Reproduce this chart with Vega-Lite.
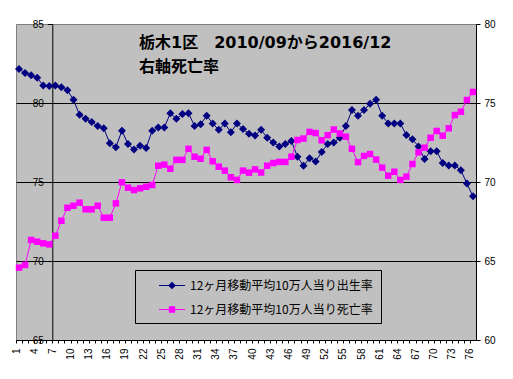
{
  "$schema": "https://vega.github.io/schema/vega-lite/v6.json",
  "width": 460,
  "height": 316,
  "autosize": "none",
  "padding": {"left": 16, "top": 24, "right": 37, "bottom": 39},
  "background": "white",
  "config": {
    "view": {"fill": "#C0C0C0", "stroke": "#808080", "strokeWidth": 1},
    "axis": {"labelFont": "Liberation Sans", "labelColor": "black", "labelFontSize": 10, "domainColor": "black", "tickColor": "black", "title": null}
  },
  "title": {
    "text": ["栃木1区　2010/09から2016/12", "右軸死亡率"],
    "anchor": "start",
    "frame": "group",
    "orient": "top",
    "offset": 0,
    "dx": 123,
    "dy": 56,
    "baseline": "top",
    "lineHeight": 24,
    "font": "DejaVu Sans, Noto Sans CJK JP",
    "fontSize": 16,
    "fontWeight": "bold",
    "color": "black"
  },
  "data": {
    "values": [
      {"i": 1, "birth": 82.15, "death": 64.58},
      {"i": 2, "birth": 81.9, "death": 64.75},
      {"i": 3, "birth": 81.75, "death": 66.33},
      {"i": 4, "birth": 81.6, "death": 66.22},
      {"i": 5, "birth": 81.1, "death": 66.12},
      {"i": 6, "birth": 81.08, "death": 66.05},
      {"i": 7, "birth": 81.1, "death": 66.6},
      {"i": 8, "birth": 81.0, "death": 67.55},
      {"i": 9, "birth": 80.8, "death": 68.37},
      {"i": 10, "birth": 80.2, "death": 68.5},
      {"i": 11, "birth": 79.25, "death": 68.69},
      {"i": 12, "birth": 79.0, "death": 68.27},
      {"i": 13, "birth": 78.8, "death": 68.27},
      {"i": 14, "birth": 78.55, "death": 68.5},
      {"i": 15, "birth": 78.4, "death": 67.74},
      {"i": 16, "birth": 77.45, "death": 67.74},
      {"i": 17, "birth": 77.2, "death": 68.65},
      {"i": 18, "birth": 78.25, "death": 69.98},
      {"i": 19, "birth": 77.4, "death": 69.64},
      {"i": 20, "birth": 77.05, "death": 69.49},
      {"i": 21, "birth": 77.3, "death": 69.6},
      {"i": 22, "birth": 77.15, "death": 69.7},
      {"i": 23, "birth": 78.25, "death": 69.81},
      {"i": 24, "birth": 78.45, "death": 71.03},
      {"i": 25, "birth": 78.45, "death": 71.1},
      {"i": 26, "birth": 79.35, "death": 70.84},
      {"i": 27, "birth": 79.0, "death": 71.4},
      {"i": 28, "birth": 79.3, "death": 71.4},
      {"i": 29, "birth": 79.35, "death": 72.1},
      {"i": 30, "birth": 78.55, "death": 71.6},
      {"i": 31, "birth": 78.65, "death": 71.47},
      {"i": 32, "birth": 79.2, "death": 72.03},
      {"i": 33, "birth": 78.7, "death": 71.31},
      {"i": 34, "birth": 78.3, "death": 70.97},
      {"i": 35, "birth": 78.7, "death": 70.72},
      {"i": 36, "birth": 78.15, "death": 70.3},
      {"i": 37, "birth": 78.7, "death": 70.13},
      {"i": 38, "birth": 78.35, "death": 70.72},
      {"i": 39, "birth": 78.05, "death": 70.59},
      {"i": 40, "birth": 77.95, "death": 70.8},
      {"i": 41, "birth": 78.3, "death": 70.6},
      {"i": 42, "birth": 77.8, "death": 71.03},
      {"i": 43, "birth": 77.5, "death": 71.2},
      {"i": 44, "birth": 77.25, "death": 71.27},
      {"i": 45, "birth": 77.4, "death": 71.27},
      {"i": 46, "birth": 77.6, "death": 71.6},
      {"i": 47, "birth": 76.6, "death": 72.66},
      {"i": 48, "birth": 76.03, "death": 72.75},
      {"i": 49, "birth": 76.5, "death": 73.17},
      {"i": 50, "birth": 76.3, "death": 73.1},
      {"i": 51, "birth": 76.9, "death": 72.64},
      {"i": 52, "birth": 77.4, "death": 72.96},
      {"i": 53, "birth": 77.5, "death": 73.32},
      {"i": 54, "birth": 77.8, "death": 73.07},
      {"i": 55, "birth": 78.55, "death": 72.87},
      {"i": 56, "birth": 79.55, "death": 72.1},
      {"i": 57, "birth": 79.2, "death": 71.26},
      {"i": 58, "birth": 79.55, "death": 71.65},
      {"i": 59, "birth": 79.95, "death": 71.77},
      {"i": 60, "birth": 80.2, "death": 71.42},
      {"i": 61, "birth": 79.2, "death": 70.91},
      {"i": 62, "birth": 78.7, "death": 70.4},
      {"i": 63, "birth": 78.7, "death": 70.65},
      {"i": 64, "birth": 78.7, "death": 70.13},
      {"i": 65, "birth": 77.97, "death": 70.34},
      {"i": 66, "birth": 77.7, "death": 71.14},
      {"i": 67, "birth": 77.25, "death": 71.88},
      {"i": 68, "birth": 76.45, "death": 72.17},
      {"i": 69, "birth": 76.95, "death": 72.8},
      {"i": 70, "birth": 76.95, "death": 73.23},
      {"i": 71, "birth": 76.2, "death": 72.93},
      {"i": 72, "birth": 76.05, "death": 73.4},
      {"i": 73, "birth": 76.05, "death": 74.24},
      {"i": 74, "birth": 75.75, "death": 74.45},
      {"i": 75, "birth": 74.9, "death": 75.19},
      {"i": 76, "birth": 74.1, "death": 75.7}
    ]
  },
  "encoding": {
    "x": {
      "field": "i",
      "type": "ordinal",
      "scale": {"type": "point", "padding": 0.5},
      "axis": {
        "labelAngle": -90,
        "labelExpr": "(datum.value - 1) % 3 === 0 ? datum.label : ''",
        "tickSize": 3,
        "tickOffset": -3,
        "labelPadding": 5,
        "grid": false,
        "labelOverlap": false
      }
    }
  },
  "layer": [
    {
      "encoding": {
        "y": {
          "field": "birth",
          "type": "quantitative",
          "scale": {"domain": [65, 85], "nice": false, "zero": false},
          "axis": {
            "orient": "left",
            "offset": -36.3,
            "values": [65, 70, 75, 80, 85],
            "grid": false,
            "tickSize": 5,
            "labelPadding": 4
          }
        }
      },
      "layer": [
        {"mark": {"type": "line", "color": "#000080", "strokeWidth": 1}},
        {"mark": {"type": "point", "shape": "diamond", "color": "#000080", "filled": true, "opacity": 1, "size": 64}}
      ]
    },
    {
      "encoding": {
        "y": {
          "field": "death",
          "type": "quantitative",
          "scale": {"domain": [60, 80], "nice": false, "zero": false},
          "axis": {
            "orient": "right",
            "values": [60, 65, 70, 75, 80],
            "grid": true,
            "gridColor": {"condition": {"test": "datum.value >= 80", "value": "#808080"}, "value": "black"},
            "gridWidth": 1,
            "tickSize": 4,
            "labelPadding": 4
          }
        }
      },
      "layer": [
        {"mark": {"type": "line", "color": "#FF00FF", "strokeWidth": 1}},
        {"mark": {"type": "point", "shape": "square", "color": "#FF00FF", "filled": true, "opacity": 1, "size": 42}}
      ]
    },
    {
      "data": {"values": []},
      "mark": {"type": "point", "filled": true, "opacity": 1},
      "encoding": {
        "shape": {
          "datum": "12ヶ月移動平均10万人当り出生率",
          "scale": {
            "domain": ["12ヶ月移動平均10万人当り出生率", "12ヶ月移動平均10万人当り死亡率"],
            "range": ["M-1.857,-0.075H1.857V0.075H-1.857ZM-0.55,0L0,-0.55L0.55,0L0,0.55Z", "M-1.857,-0.075H1.857V0.075H-1.857ZM-0.45,-0.45H0.45V0.45H-0.45Z"]
          }
        },
        "color": {
          "datum": "12ヶ月移動平均10万人当り出生率",
          "scale": {
            "domain": ["12ヶ月移動平均10万人当り出生率", "12ヶ月移動平均10万人当り死亡率"],
            "range": ["#000080", "#FF00FF"]
          },
          "legend": {
            "title": null,
            "orient": "none",
            "legendX": 119,
            "legendY": 246,
            "padding": 7.5,
            "strokeColor": "black",
            "fillColor": null,
            "symbolSize": 196,
            "symbolOffset": 21.5,
            "labelOffset": 10,
            "rowPadding": 10,
            "symbolOpacity": 1,
            "labelFont": "Noto Sans CJK JP",
            "labelFontSize": 12,
            "labelColor": "black",
            "labelLimit": 400
          }
        }
      }
    },
    {
      "data": {"values": []},
      "mark": {"type": "point", "filled": true, "opacity": 1},
      "encoding": {
        "shape": {"datum": "12ヶ月移動平均10万人当り死亡率"},
        "color": {"datum": "12ヶ月移動平均10万人当り死亡率"}
      }
    }
  ],
  "resolve": {"scale": {"y": "independent"}}
}
